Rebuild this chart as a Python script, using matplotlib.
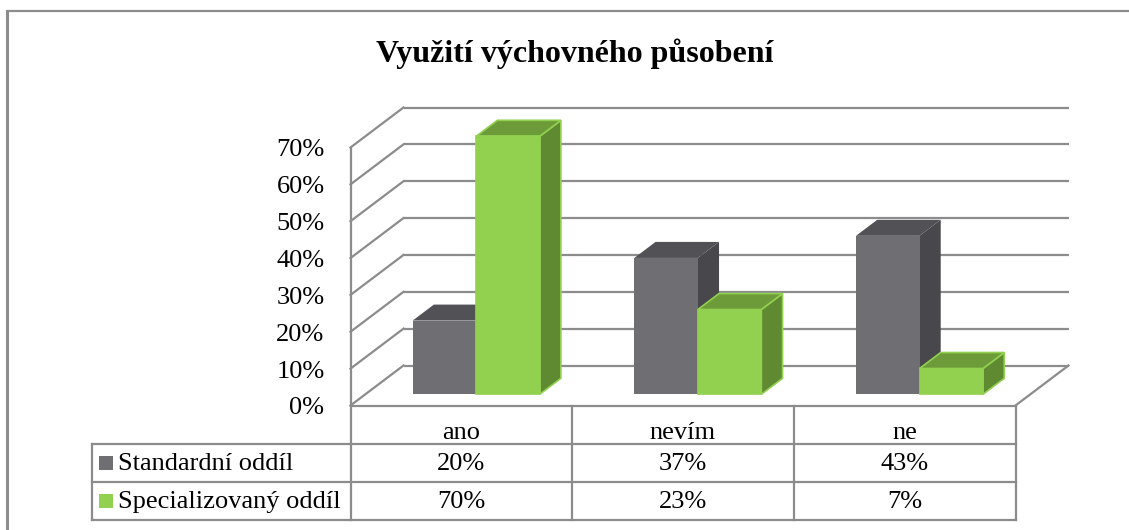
import matplotlib
matplotlib.use("Agg")
import matplotlib.pyplot as plt
from matplotlib.patches import Polygon, Rectangle

# ---------------- data ----------------
title = "Využití výchovného působení"
categories = ["ano", "nevím", "ne"]
series_names = ["Standardní oddíl", "Specializovaný oddíl"]
standard = [20, 37, 43]
specialized = [70, 23, 7]
y_ticks = [0, 10, 20, 30, 40, 50, 60, 70]
tick_labels = [f"{v}%" for v in y_ticks]

# ---------------- styles ----------------
W, H = 1129, 530
FONT = "Liberation Serif"
GRID = "#8C8C8C"
colors = {
    "Standardní oddíl": dict(front="#6F6E73", top="#525156", side="#48474C", edge="none"),
    "Specializovaný oddíl": dict(front="#92D050", top="#6E9B3A", side="#5F8A32", edge="#92D050"),
}

fig = plt.figure(figsize=(W / 100, H / 100), dpi=100)

# pixel overlay axes (frame, title, table)
bg = fig.add_axes([0, 0, 1, 1])
bg.set_xlim(0, W)
bg.set_ylim(H, 0)
bg.axis("off")

# plot area in pixels
PX0, PX1 = 350.5, 1015.5
PY0, PY1 = 405.5, 147.5   # 0% and 70% on front plane
ax = fig.add_axes([PX0 / W, (H - PY0) / H, (PX1 - PX0) / W, (PY0 - PY1) / H])
ax.set_xlim(0, len(categories))
ax.set_ylim(0, max(y_ticks))
ax.axis("off")

# depth projection (category units, percent units)
cat_px = (PX1 - PX0) / len(categories)
pct_px = (PY0 - PY1) / max(y_ticks)
DX = 53 / cat_px
DY = 40 / pct_px


def P(x, y, d):
    return (x + d * DX, y + d * DY)


lw = 1.6
# back wall gridlines and left wall diagonals
for v in y_ticks:
    ax.plot(*zip(P(0, v, 1), P(len(categories), v, 1)), color=GRID, lw=lw, clip_on=False,
            solid_capstyle="butt", zorder=1)
    ax.plot(*zip(P(0, v, 0), P(0, v, 1)), color=GRID, lw=lw, clip_on=False, zorder=1)
# floor right edge
ax.plot(*zip(P(len(categories), 0, 0), P(len(categories), 0, 1)), color=GRID, lw=lw,
        clip_on=False, zorder=1)
# front left vertical axis line
ax.plot([0, 0], [0, max(y_ticks)], color=GRID, lw=lw, clip_on=False, zorder=1)

# bars
bar_w = 0.2865
d0, d1 = 0.28, 0.68
z = 3
for i, cat in enumerate(categories):
    c = i + 0.5
    for name, vals, x0 in ((series_names[0], standard, c - bar_w),
                           (series_names[1], specialized, c)):
        v = vals[i]
        col = colors[name]
        x1 = x0 + bar_w
        front = [P(x0, 0, d0), P(x1, 0, d0), P(x1, v, d0), P(x0, v, d0)]
        top = [P(x0, v, d0), P(x1, v, d0), P(x1, v, d1), P(x0, v, d1)]
        side = [P(x1, 0, d0), P(x1, 0, d1), P(x1, v, d1), P(x1, v, d0)]
        elw = 1.2 if col["edge"] != "none" else 0
        for poly, fc in ((side, col["side"]), (top, col["top"]), (front, col["front"])):
            ax.add_patch(Polygon(poly, closed=True, facecolor=fc, edgecolor=col["edge"],
                                 lw=elw, clip_on=False, zorder=z, joinstyle="miter"))
        z += 1

# y tick labels
for v, lab in zip(y_ticks, tick_labels):
    ax.text(-26 / cat_px, v - 3 / pct_px, lab, ha="right", va="center", fontsize=19,
            family=FONT, color="black", clip_on=False)

# ---------------- frame ----------------
bg.plot([7, 7], [10, H], color=GRID, lw=2.2, solid_capstyle="butt")
bg.plot([6, W], [10.5, 10.5], color=GRID, lw=1.6, solid_capstyle="butt")

# ---------------- title ----------------
bg.text(575, 54, title, ha="center", va="center", fontsize=23, fontweight="bold",
        family=FONT, color="black")

# ---------------- data table ----------------
TL = 91.5
row_y = [405.5, 443.5, 481.5, 520]
col_x = [PX0 + k * cat_px for k in range(len(categories) + 1)]
tlw = 1.6
# horizontal lines
bg.plot([PX0, PX1], [row_y[0]] * 2, color=GRID, lw=tlw)
for yy in row_y[1:]:
    bg.plot([TL, PX1], [yy, yy], color=GRID, lw=tlw, solid_capstyle="projecting")
# vertical lines
for xx in col_x:
    bg.plot([xx, xx], [row_y[0], row_y[-1]], color=GRID, lw=tlw, solid_capstyle="projecting")
bg.plot([TL, TL], [row_y[1], row_y[-1]], color=GRID, lw=tlw, solid_capstyle="projecting")

# header
for k, cat in enumerate(categories):
    bg.text((col_x[k] + col_x[k + 1]) / 2, 433, cat, ha="center", va="center",
            fontsize=19, family=FONT)
# rows
for r, (name, vals) in enumerate(((series_names[0], standard), (series_names[1], specialized))):
    yc = (row_y[r + 1] + row_y[r + 2]) / 2
    bg.add_patch(Rectangle((99, yc - 7), 14, 14, facecolor=colors[name]["front"],
                           edgecolor="none"))
    bg.text(118, yc + 1.5, name, ha="left", va="center", fontsize=19, family=FONT)
    for k, v in enumerate(vals):
        bg.text((col_x[k] + col_x[k + 1]) / 2, yc + 1.5, f"{v}%", ha="center", va="center",
                fontsize=19, family=FONT)

fig.savefig("out.png", dpi=100, facecolor="white")
